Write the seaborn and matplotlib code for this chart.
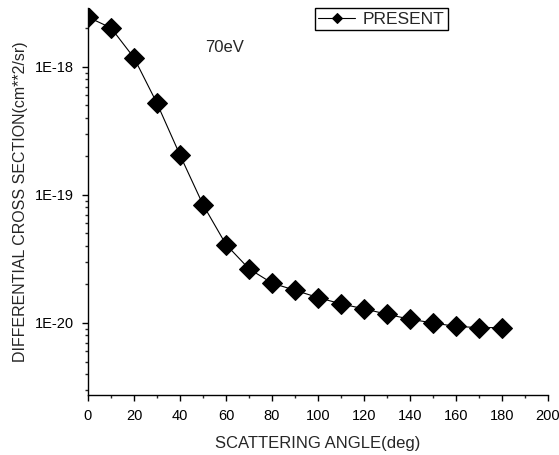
import matplotlib
matplotlib.use('Agg')
import matplotlib.pyplot as plt
import matplotlib.ticker as mticker
import seaborn as sns
import numpy as np

sns.set_style('ticks')
plt.rcParams['font.family'] = ['Liberation Sans', 'DejaVu Sans']

angle = [0, 10, 20, 30, 40, 50, 60, 70, 80, 90, 100, 110, 120, 130, 140, 150, 160, 170, 180]
dcs = [2.45e-18, 2.02e-18, 1.18e-18, 5.2e-19, 2.05e-19, 8.4e-20, 4.1e-20, 2.65e-20,
       2.05e-20, 1.8e-20, 1.58e-20, 1.41e-20, 1.29e-20, 1.17e-20, 1.07e-20, 1.0e-20,
       9.4e-21, 9.2e-21, 9.2e-21]
y_major = [1e-20, 1e-19, 1e-18]

fig = plt.figure(figsize=(5.59, 4.55), dpi=100)
ax = fig.add_axes([0.1574, 0.132, 0.823, 0.8505])

sns.lineplot(x=angle, y=dcs, ax=ax, color='black', linewidth=0.8, marker='D',
             markersize=10, markeredgecolor='black', label='PRESENT')

ax.set_yscale('log')
ax.set_xlim(0, 200)
ax.set_ylim(2.74e-21, 2.89e-18)
ax.xaxis.set_major_locator(mticker.MultipleLocator(20))
ax.xaxis.set_minor_locator(mticker.MultipleLocator(10))
ax.yaxis.set_major_locator(mticker.FixedLocator(y_major))
ax.yaxis.set_minor_locator(mticker.LogLocator(base=10, subs=np.arange(2, 10)))
ax.yaxis.set_minor_formatter(mticker.NullFormatter())
ax.yaxis.set_major_formatter(mticker.FuncFormatter(lambda v, p: '1E%d' % round(np.log10(v))))

ax.tick_params(axis='both', which='major', direction='out', length=4, width=1,
               labelsize=10.5, colors='black', pad=6)
ax.tick_params(axis='both', which='minor', direction='out', length=2.5, width=1)
for s in ['top', 'right']:
    ax.spines[s].set_visible(False)
for s in ['left', 'bottom']:
    ax.spines[s].set_linewidth(1)
    ax.spines[s].set_color('black')

ax.set_xlabel('SCATTERING ANGLE(deg)', fontsize=12)
ax.set_ylabel('DIFFERENTIAL CROSS SECTION(cm**2/sr)', fontsize=11.5)
ax.xaxis.set_label_coords(0.5, -0.105)
ax.yaxis.set_label_coords(-0.13, 0.5)

ax.text(51, 1.41e-18, '70eV', fontsize=12, va='center')

leg = ax.legend(loc='upper left', bbox_to_anchor=(0.4935, 1.0), fontsize=12.5,
                frameon=True, fancybox=False, handlelength=2.1, markerscale=0.5,
                borderpad=0.2, handletextpad=0.45, borderaxespad=0)
leg.get_frame().set_edgecolor('black')
leg.get_frame().set_linewidth(1)
leg.get_frame().set_alpha(1)

fig.savefig('out.png', dpi=100)
